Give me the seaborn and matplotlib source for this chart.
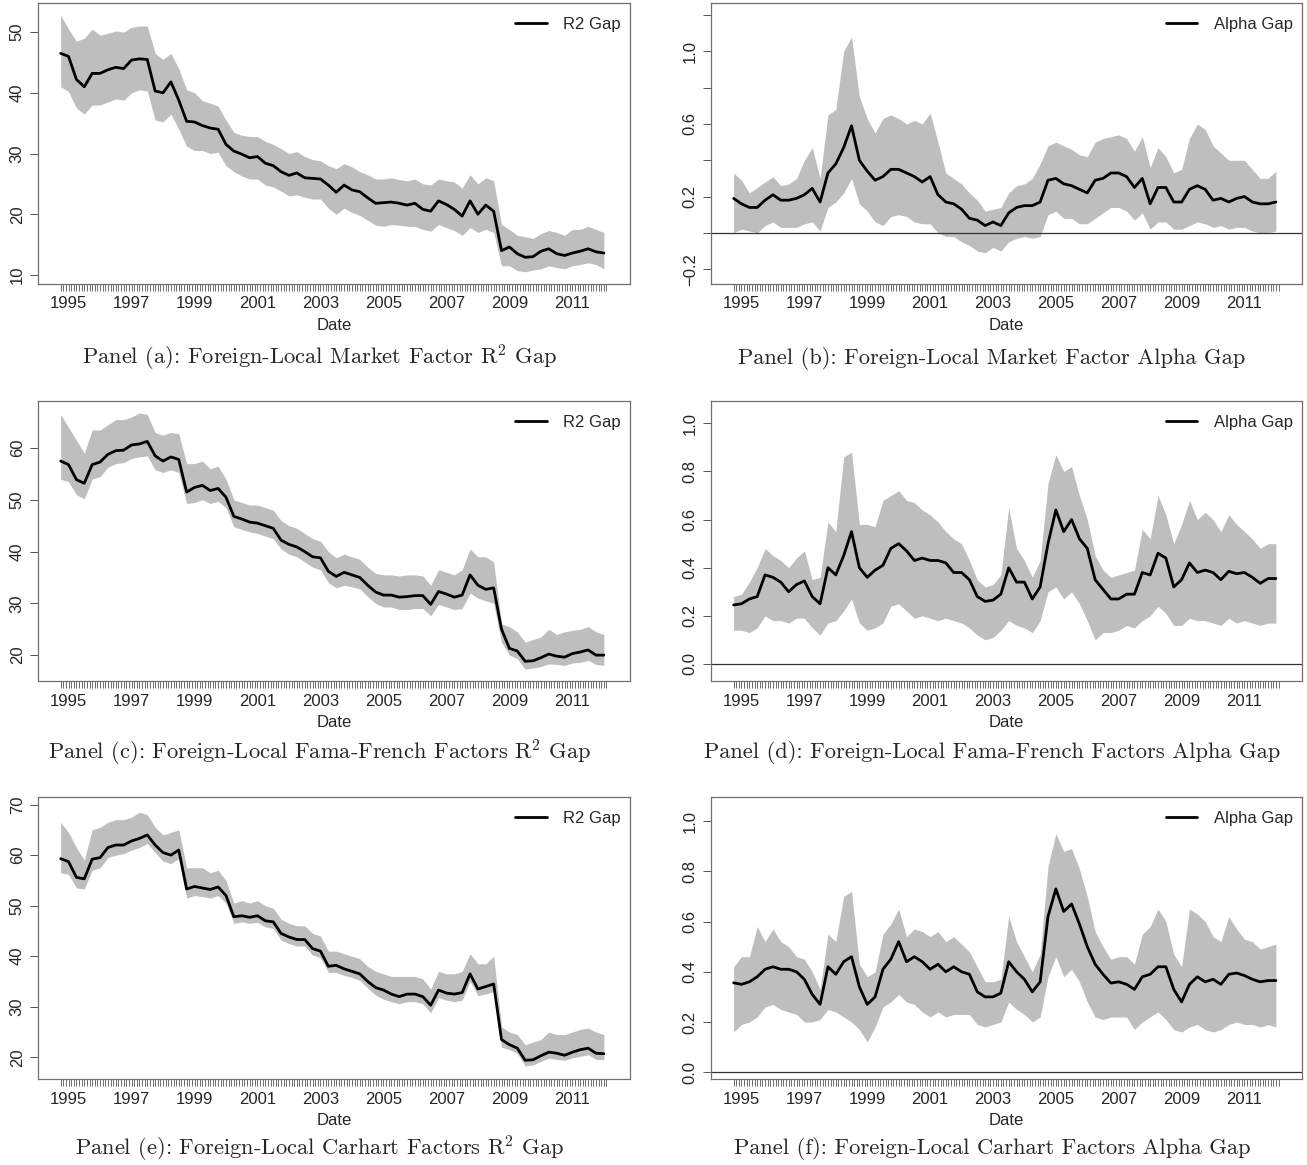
import numpy as np
import pandas as pd
import seaborn as sns
import matplotlib
matplotlib.use("Agg")
import matplotlib.pyplot as plt

# quarterly observation dates, Oct 1994 .. Jan 2012
dates = pd.date_range("1994-10-01", periods=70, freq="3MS")
t = dates.year + (dates.month - 1) / 12

# Panel (a): market factor R2 gap
mkt_r2 = [46.5, 46.0, 42.2, 41.0, 43.2, 43.2, 43.8, 44.2, 44.0, 45.4,
          45.6, 45.5, 40.3, 40.0, 41.8, 38.8, 35.3, 35.2, 34.6, 34.2,
          34.0, 31.5, 30.4, 29.9, 29.3, 29.5, 28.4, 28.0, 27.0, 26.4,
          26.8, 26.0, 25.9, 25.8, 24.8, 23.6, 24.8, 24.0, 23.7, 22.7,
          21.8, 21.9, 22.0, 21.8, 21.5, 21.8, 20.8, 20.5, 22.2, 21.6,
          20.8, 19.7, 22.2, 20.0, 21.5, 20.5, 14.0, 14.6, 13.5, 12.9,
          13.0, 13.9, 14.3, 13.5, 13.2, 13.6, 13.9, 14.3, 13.8, 13.6]
mkt_r2_hi = [52.8, 50.5, 48.5, 49.0, 50.5, 49.5, 49.8, 50.2, 50.0, 50.8,
             51.0, 51.0, 46.5, 45.5, 46.5, 44.0, 40.5, 40.0, 38.7, 38.3,
             37.8, 35.5, 33.5, 33.0, 32.8, 32.8, 32.0, 31.5, 30.8, 30.0,
             30.3, 29.5, 29.0, 28.8, 28.0, 27.5, 28.3, 27.8, 27.0, 26.5,
             25.8, 25.8, 26.0, 25.7, 25.5, 25.8, 25.0, 24.8, 25.8, 25.5,
             25.3, 24.3, 26.5, 25.0, 26.0, 25.5, 18.3, 17.5, 16.5, 16.3,
             16.0, 16.8, 17.3, 17.0, 16.5, 17.5, 17.5, 18.0, 17.5, 17.0]
mkt_r2_lo = [41.0, 40.2, 37.5, 36.5, 38.0, 38.0, 38.5, 39.0, 38.8, 40.0,
             40.5, 40.3, 35.5, 35.2, 36.5, 34.0, 31.2, 30.5, 30.5, 30.0,
             30.2, 28.0, 27.0, 26.3, 25.8, 25.8, 24.8, 24.5, 23.8, 23.0,
             23.2, 22.8, 22.5, 22.5, 21.0, 20.0, 21.0, 20.3, 19.8, 19.0,
             18.2, 18.0, 18.3, 18.2, 18.0, 18.0, 17.5, 17.2, 18.3, 17.8,
             17.3, 16.5, 17.8, 17.0, 17.5, 17.0, 11.5, 11.5, 10.7, 10.5,
             10.8, 11.0, 11.5, 11.2, 11.0, 11.5, 11.7, 12.0, 11.7, 11.0]

# Panel (b): market factor alpha gap
mkt_alpha = [0.19, 0.16, 0.14, 0.14, 0.18, 0.21, 0.18, 0.18, 0.19, 0.21,
             0.245, 0.17, 0.33, 0.38, 0.47, 0.59, 0.40, 0.34, 0.29, 0.31,
             0.35, 0.35, 0.33, 0.31, 0.28, 0.31, 0.21, 0.17, 0.16, 0.13,
             0.08, 0.07, 0.04, 0.06, 0.04, 0.11, 0.14, 0.15, 0.15, 0.17,
             0.29, 0.30, 0.27, 0.26, 0.24, 0.22, 0.29, 0.30, 0.33, 0.33,
             0.31, 0.25, 0.30, 0.16, 0.25, 0.25, 0.17, 0.17, 0.24, 0.26,
             0.24, 0.18, 0.19, 0.17, 0.19, 0.20, 0.17, 0.16, 0.16, 0.17]
mkt_alpha_hi = [0.33, 0.29, 0.22, 0.25, 0.28, 0.31, 0.26, 0.27, 0.30, 0.40,
                0.47, 0.30, 0.65, 0.68, 1.00, 1.08, 0.75, 0.63, 0.55, 0.63,
                0.65, 0.63, 0.60, 0.62, 0.60, 0.66, 0.50, 0.33, 0.30, 0.27,
                0.22, 0.18, 0.12, 0.13, 0.14, 0.22, 0.26, 0.27, 0.30, 0.38,
                0.48, 0.50, 0.48, 0.46, 0.43, 0.42, 0.50, 0.52, 0.53, 0.54,
                0.52, 0.45, 0.53, 0.36, 0.47, 0.42, 0.33, 0.35, 0.52, 0.60,
                0.57, 0.48, 0.44, 0.40, 0.40, 0.40, 0.35, 0.30, 0.30, 0.34]
mkt_alpha_lo = [0.00, 0.02, 0.01, 0.00, 0.04, 0.06, 0.03, 0.03, 0.03, 0.05,
                0.06, 0.01, 0.14, 0.17, 0.22, 0.30, 0.16, 0.12, 0.06, 0.04,
                0.09, 0.10, 0.09, 0.06, 0.05, 0.05, 0.00, -0.02, -0.02, -0.05,
                -0.07, -0.10, -0.11, -0.08, -0.10, -0.05, -0.03, -0.02, -0.03, -0.02,
                0.10, 0.12, 0.08, 0.08, 0.05, 0.05, 0.08, 0.11, 0.14, 0.14,
                0.12, 0.07, 0.11, 0.02, 0.06, 0.06, 0.02, 0.02, 0.04, 0.06,
                0.05, 0.03, 0.04, 0.02, 0.03, 0.03, 0.01, 0.00, 0.00, 0.01]

# Panel (c): Fama-French R2 gap
ff_r2 = [57.5, 56.8, 53.9, 53.2, 56.8, 57.3, 58.8, 59.5, 59.6, 60.6,
         60.8, 61.3, 58.5, 57.5, 58.3, 57.8, 51.5, 52.4, 52.8, 51.8,
         52.2, 50.5, 46.8, 46.3, 45.7, 45.5, 45.0, 44.5, 42.2, 41.4,
         40.9, 40.0, 39.0, 38.8, 36.2, 35.2, 36.0, 35.5, 35.0, 33.5,
         32.2, 31.6, 31.6, 31.2, 31.3, 31.5, 31.5, 29.8, 32.3, 31.8,
         31.2, 31.6, 35.5, 33.5, 32.7, 33.0, 25.0, 21.3, 20.8, 18.8,
         18.9, 19.5, 20.2, 19.8, 19.6, 20.3, 20.6, 21.0, 20.0, 20.0]
ff_r2_hi = [66.5, 64.0, 61.5, 59.0, 63.5, 63.5, 64.5, 65.5, 65.5, 66.0,
            66.8, 66.5, 63.0, 62.5, 63.0, 62.8, 57.0, 57.0, 57.5, 56.0,
            56.5, 54.0, 50.0, 49.5, 49.0, 49.0, 48.5, 48.0, 46.0, 45.0,
            44.5, 43.5, 42.5, 42.0, 40.0, 38.8, 39.5, 39.0, 38.5, 37.0,
            35.8, 35.5, 35.5, 35.3, 35.5, 35.5, 35.3, 33.5, 36.5, 36.0,
            35.5, 36.5, 40.5, 39.0, 39.0, 38.0, 26.0, 25.5, 24.5, 22.5,
            23.0, 23.5, 25.0, 24.0, 24.5, 24.8, 25.0, 25.5, 24.5, 24.0]
ff_r2_lo = [54.0, 53.5, 51.0, 50.2, 54.0, 54.5, 56.3, 57.0, 57.2, 58.0,
            58.3, 58.5, 55.8, 55.3, 55.8, 55.3, 49.3, 49.5, 50.0, 49.3,
            49.7, 48.5, 44.8, 44.3, 43.8, 43.5, 43.0, 42.5, 40.5, 39.5,
            39.0, 38.0, 37.0, 36.5, 34.0, 33.0, 33.5, 33.2, 32.8, 31.3,
            30.0, 29.3, 29.3, 28.8, 28.8, 29.0, 29.0, 27.6, 29.8, 29.3,
            28.8, 29.0, 32.0, 31.0, 30.5, 30.0, 22.5, 20.0, 19.3, 17.3,
            17.5, 17.8, 18.3, 18.2, 18.0, 18.5, 18.6, 19.0, 18.2, 18.0]

# Panel (d): Fama-French alpha gap
ff_alpha = [0.245, 0.25, 0.27, 0.28, 0.37, 0.36, 0.34, 0.30, 0.33, 0.345,
            0.28, 0.25, 0.40, 0.37, 0.45, 0.55, 0.40, 0.36, 0.39, 0.41,
            0.48, 0.50, 0.47, 0.43, 0.44, 0.43, 0.43, 0.42, 0.38, 0.38,
            0.35, 0.28, 0.26, 0.265, 0.29, 0.40, 0.34, 0.34, 0.27, 0.32,
            0.50, 0.64, 0.55, 0.60, 0.52, 0.48, 0.35, 0.31, 0.27, 0.27,
            0.29, 0.29, 0.38, 0.37, 0.46, 0.44, 0.32, 0.35, 0.42, 0.38,
            0.39, 0.38, 0.35, 0.385, 0.375, 0.38, 0.36, 0.335, 0.355, 0.355]
ff_alpha_hi = [0.28, 0.29, 0.34, 0.40, 0.48, 0.45, 0.43, 0.40, 0.44, 0.47,
               0.35, 0.36, 0.59, 0.55, 0.86, 0.88, 0.58, 0.58, 0.57, 0.68,
               0.70, 0.72, 0.68, 0.67, 0.64, 0.62, 0.59, 0.55, 0.52, 0.50,
               0.43, 0.35, 0.32, 0.33, 0.37, 0.65, 0.48, 0.43, 0.36, 0.43,
               0.75, 0.87, 0.80, 0.82, 0.70, 0.60, 0.45, 0.39, 0.36, 0.37,
               0.38, 0.39, 0.56, 0.52, 0.70, 0.62, 0.50, 0.58, 0.68, 0.60,
               0.63, 0.60, 0.55, 0.62, 0.58, 0.55, 0.52, 0.48, 0.50, 0.50]
ff_alpha_lo = [0.14, 0.14, 0.13, 0.15, 0.20, 0.18, 0.18, 0.17, 0.19, 0.19,
               0.15, 0.12, 0.17, 0.18, 0.22, 0.27, 0.17, 0.14, 0.15, 0.17,
               0.24, 0.25, 0.22, 0.19, 0.20, 0.19, 0.18, 0.19, 0.18, 0.17,
               0.15, 0.12, 0.10, 0.11, 0.14, 0.18, 0.16, 0.15, 0.13, 0.18,
               0.30, 0.32, 0.27, 0.30, 0.25, 0.18, 0.10, 0.13, 0.13, 0.14,
               0.16, 0.15, 0.18, 0.20, 0.24, 0.21, 0.16, 0.16, 0.19, 0.18,
               0.18, 0.17, 0.16, 0.19, 0.17, 0.18, 0.17, 0.16, 0.17, 0.17]

# Panel (e): Carhart R2 gap
car_r2 = [59.3, 58.7, 55.6, 55.3, 59.2, 59.5, 61.5, 62.0, 62.0, 62.8,
          63.3, 64.0, 62.0, 60.5, 60.0, 61.0, 53.3, 53.8, 53.5, 53.2,
          53.7, 52.0, 47.8, 48.0, 47.7, 48.0, 47.0, 46.8, 44.5, 43.8,
          43.3, 43.3, 41.5, 41.0, 38.0, 38.2, 37.5, 37.0, 36.5, 35.0,
          33.8, 33.3, 32.5, 32.0, 32.5, 32.5, 32.0, 30.3, 33.3, 32.7,
          32.5, 32.8, 36.5, 33.5, 34.0, 34.5, 23.5, 22.5, 21.8, 19.4,
          19.5, 20.3, 21.0, 20.8, 20.4, 21.0, 21.5, 21.8, 20.8, 20.7]
car_r2_hi = [66.5, 64.5, 61.5, 59.0, 65.0, 65.5, 66.5, 67.0, 67.0, 67.5,
             68.5, 68.0, 65.5, 64.0, 64.5, 65.0, 57.5, 57.5, 57.5, 56.5,
             57.0, 55.0, 50.5, 51.0, 50.5, 51.0, 50.0, 49.5, 47.3, 46.5,
             46.0, 46.0, 44.5, 44.0, 41.0, 41.0, 40.5, 40.0, 39.5, 38.0,
             37.0, 36.5, 36.0, 36.0, 36.0, 36.0, 35.5, 33.5, 37.0, 36.5,
             36.5, 37.0, 40.5, 38.5, 38.5, 40.0, 26.0, 25.0, 24.5, 22.5,
             23.0, 23.5, 25.0, 24.5, 24.5, 25.0, 25.5, 25.8, 25.0, 24.5]
car_r2_lo = [56.5, 56.2, 53.5, 53.3, 57.0, 57.5, 59.5, 60.0, 60.3, 61.0,
             61.5, 62.3, 60.5, 58.8, 58.3, 59.3, 51.5, 52.0, 51.8, 51.5,
             52.0, 50.5, 46.5, 46.8, 46.5, 46.7, 45.8, 45.5, 43.2, 42.5,
             42.0, 42.0, 40.2, 39.7, 36.8, 36.8, 36.2, 35.8, 35.2, 33.7,
             32.3, 31.5, 31.0, 30.6, 31.0, 31.0, 30.6, 28.8, 31.8, 31.3,
             31.0, 31.3, 35.0, 32.2, 32.5, 33.0, 22.0, 21.5, 20.8, 18.3,
             18.5, 19.2, 19.8, 19.6, 19.4, 19.9, 20.2, 20.5, 19.6, 19.5]

# Panel (f): Carhart alpha gap
car_alpha = [0.356, 0.35, 0.36, 0.38, 0.41, 0.42, 0.41, 0.41, 0.40, 0.37,
             0.31, 0.27, 0.42, 0.39, 0.44, 0.46, 0.34, 0.27, 0.30, 0.41,
             0.45, 0.52, 0.44, 0.46, 0.44, 0.41, 0.43, 0.40, 0.42, 0.40,
             0.39, 0.32, 0.30, 0.30, 0.315, 0.44, 0.40, 0.37, 0.32, 0.36,
             0.62, 0.73, 0.64, 0.67, 0.59, 0.50, 0.43, 0.39, 0.355, 0.36,
             0.35, 0.33, 0.38, 0.39, 0.42, 0.42, 0.33, 0.28, 0.35, 0.38,
             0.36, 0.37, 0.35, 0.39, 0.395, 0.385, 0.37, 0.36, 0.365, 0.365]
car_alpha_hi = [0.42, 0.46, 0.46, 0.58, 0.52, 0.57, 0.52, 0.50, 0.46, 0.45,
                0.40, 0.33, 0.55, 0.52, 0.70, 0.72, 0.43, 0.38, 0.40, 0.55,
                0.59, 0.65, 0.54, 0.57, 0.56, 0.54, 0.56, 0.52, 0.54, 0.51,
                0.48, 0.42, 0.36, 0.36, 0.37, 0.62, 0.52, 0.46, 0.40, 0.47,
                0.82, 0.95, 0.88, 0.89, 0.81, 0.70, 0.56, 0.50, 0.45, 0.46,
                0.46, 0.43, 0.55, 0.58, 0.65, 0.60, 0.47, 0.42, 0.65, 0.63,
                0.60, 0.54, 0.52, 0.62, 0.57, 0.53, 0.52, 0.49, 0.50, 0.51]
car_alpha_lo = [0.16, 0.19, 0.20, 0.22, 0.26, 0.27, 0.25, 0.24, 0.23, 0.20,
                0.20, 0.21, 0.25, 0.24, 0.22, 0.20, 0.17, 0.12, 0.18, 0.26,
                0.28, 0.31, 0.28, 0.27, 0.24, 0.22, 0.24, 0.22, 0.23, 0.23,
                0.23, 0.19, 0.18, 0.19, 0.20, 0.28, 0.25, 0.23, 0.20, 0.22,
                0.38, 0.46, 0.38, 0.41, 0.36, 0.28, 0.22, 0.21, 0.22, 0.22,
                0.22, 0.17, 0.20, 0.22, 0.24, 0.21, 0.17, 0.16, 0.18, 0.19,
                0.17, 0.16, 0.17, 0.19, 0.20, 0.19, 0.19, 0.18, 0.19, 0.18]

year_ticks = list(range(1995, 2012, 2))

sns.set_style("white")
plt.rcParams["font.family"] = ["Liberation Sans", "DejaVu Sans"]
plt.rcParams["mathtext.fontset"] = "cm"

W, H = 1307, 1165
fig = plt.figure(figsize=(W / 100, H / 100), dpi=100)

# pixel boxes (left, top, right, bottom)
rows = [(3, 284), (401, 681), (797, 1079)]
cols = [(38, 630), (711, 1302)]
cap_y = [358, 753, 1149]
cap_x = [320, 992]

minus = "\u2212"
panels = [
    dict(m=mkt_r2, lo=mkt_r2_lo, hi=mkt_r2_hi, ylim=(8.5, 54.8),
         ticks=[10, 20, 30, 40, 50], labels=["10", "20", "30", "40", "50"],
         leg="R2 Gap", zero=False,
         cap="Panel (a): Foreign-Local Market Factor R$^2$ Gap"),
    dict(m=mkt_alpha, lo=mkt_alpha_lo, hi=mkt_alpha_hi, ylim=(-0.282, 1.267),
         ticks=[-0.2, 0, 0.2, 0.4, 0.6, 0.8, 1.0, 1.2],
         labels=[minus + "0.2", "", "0.2", "", "0.6", "", "1.0", ""],
         leg="Alpha Gap", zero=True,
         cap="Panel (b): Foreign-Local Market Factor Alpha Gap"),
    dict(m=ff_r2, lo=ff_r2_lo, hi=ff_r2_hi, ylim=(15.0, 69.1),
         ticks=[20, 30, 40, 50, 60], labels=["20", "30", "40", "50", "60"],
         leg="R2 Gap", zero=False,
         cap="Panel (c): Foreign-Local Fama-French Factors R$^2$ Gap"),
    dict(m=ff_alpha, lo=ff_alpha_lo, hi=ff_alpha_hi, ylim=(-0.071, 1.093),
         ticks=[0, 0.2, 0.4, 0.6, 0.8, 1.0],
         labels=["0.0", "0.2", "0.4", "0.6", "0.8", "1.0"],
         leg="Alpha Gap", zero=True,
         cap="Panel (d): Foreign-Local Fama-French Factors Alpha Gap"),
    dict(m=car_r2, lo=car_r2_lo, hi=car_r2_hi, ylim=(15.7, 71.5),
         ticks=[20, 30, 40, 50, 60, 70], labels=["20", "30", "40", "50", "60", "70"],
         leg="R2 Gap", zero=False,
         cap="Panel (e): Foreign-Local Carhart Factors R$^2$ Gap"),
    dict(m=car_alpha, lo=car_alpha_lo, hi=car_alpha_hi, ylim=(-0.027, 1.096),
         ticks=[0, 0.2, 0.4, 0.6, 0.8, 1.0],
         labels=["0.0", "0.2", "0.4", "0.6", "0.8", "1.0"],
         leg="Alpha Gap", zero=True,
         cap="Panel (f): Foreign-Local Carhart Factors Alpha Gap"),
]

month_ticks = np.arange(1994.75, 2012.1, 1 / 12)

for i, p in enumerate(panels):
    r, c = divmod(i, 2)
    top, bot = rows[r]
    left, right = cols[c]
    ax = fig.add_axes([left / W, 1 - bot / H, (right - left) / W, (bot - top) / H])

    df = pd.DataFrame({"t": t, "m": p["m"], "lo": p["lo"], "hi": p["hi"]})
    ax.fill_between(df["t"], df["lo"], df["hi"], color="#bebebe", lw=0)
    sns.lineplot(data=df, x="t", y="m", ax=ax, color="black", lw=2.0, label=p["leg"])
    if p["zero"]:
        ax.axhline(0, color="#333333", lw=0.9)

    ax.set_xlim(1994.03, 2012.83)
    ax.set_ylim(*p["ylim"])
    ax.set_xticks(year_ticks)
    ax.set_xticklabels([str(y) for y in year_ticks])
    ax.set_xticks(month_ticks, minor=True)
    ax.set_yticks(p["ticks"])
    ax.set_yticklabels(p["labels"], rotation=90, va="center")
    ax.tick_params(axis="x", which="both", direction="out", length=5, width=0.6,
                   color="#555555", labelsize=12, pad=4, bottom=True)
    ax.tick_params(axis="y", direction="out", length=5.5, width=0.7,
                   color="#555555", labelsize=12, pad=4, left=True)
    for s in ax.spines.values():
        s.set_color("#707070")
        s.set_linewidth(0.9)
    ax.set_xlabel("Date", fontsize=12, labelpad=5)
    ax.set_ylabel("")
    ax.legend(loc="upper right", bbox_to_anchor=(1 + 5 / (right - left), 1.0),
              frameon=False, fontsize=12, handlelength=1.9,
              handletextpad=1.0, borderaxespad=0.45)

    fig.text(cap_x[c] / W, 1 - cap_y[r] / H, p["cap"], ha="center", va="center",
             fontsize=16.2, family="cmr10")

fig.savefig("out.png", dpi=100)
